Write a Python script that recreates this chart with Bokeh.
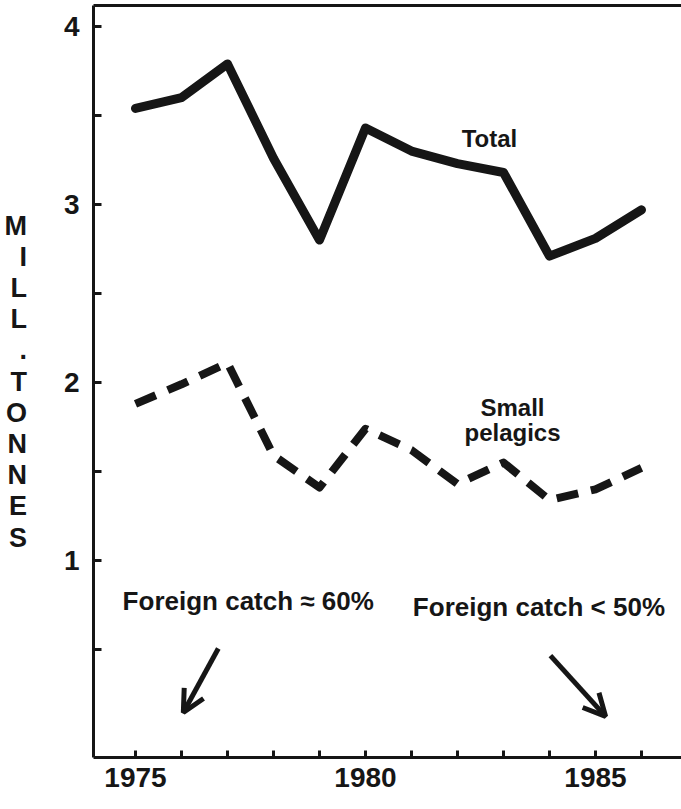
from bokeh.plotting import figure
from bokeh.models import Range1d, FixedTicker, Label, Arrow, OpenHead, LinearAxis
from bokeh.embed import file_html
from bokeh.resources import INLINE

# ---- data ----
years = list(range(1975, 1987))
total = [3.54, 3.60, 3.79, 3.26, 2.80, 3.43, 3.30, 3.23, 3.18, 2.71, 2.81, 2.97]
small_pelagics = [1.88, 1.99, 2.11, 1.59, 1.41, 1.74, 1.62, 1.43, 1.55, 1.34, 1.40, 1.52]
x_tick_labels = {1975: "1975", 1980: "1980", 1985: "1985"}
y_ticks = [0.5, 1.0, 1.5, 2.0, 2.5, 3.0, 3.5, 4.0]
y_tick_labels = {1.0: "1", 2.0: "2", 3.0: "3", 4.0: "4"}
ylabel_letters = ["M", "I", "L", "L", ".", "T", "O", "N", "N", "E", "S"]

INK = "#161616"
FONT = "Liberation Sans"

p = figure(width=681, height=809, output_backend="svg", toolbar_location=None,
           x_range=Range1d(1974.087, 1986.87), y_range=Range1d(-0.1067, 4.118),
           min_border_left=93, min_border_right=0, min_border_top=5, min_border_bottom=52)
p.grid.visible = False
p.outline_line_color = None
p.background_fill_color = "white"
p.border_fill_color = "white"

# axes
xa = p.xaxis[0]
xa.ticker = FixedTicker(ticks=years)
xa.major_label_overrides = {y: x_tick_labels.get(y, "") for y in years}
xa.major_tick_in = 7
xa.major_tick_out = 0
xa.minor_tick_line_color = None
xa.axis_line_width = 3
xa.axis_line_color = INK
xa.major_tick_line_width = 3
xa.major_tick_line_color = INK
xa.major_label_standoff = 10
xa.major_label_text_font = FONT
xa.major_label_text_font_style = "bold"
xa.major_label_text_font_size = "28px"
xa.major_label_text_color = INK

ya = p.yaxis[0]
ya.ticker = FixedTicker(ticks=y_ticks)
ya.major_label_overrides = {t: y_tick_labels.get(t, "") for t in y_ticks}
ya.major_tick_in = 8
ya.major_tick_out = 0
ya.minor_tick_line_color = None
ya.axis_line_width = 3
ya.axis_line_color = INK
ya.major_tick_line_width = 3
ya.major_tick_line_color = INK
ya.major_label_standoff = 14
ya.major_label_text_font = FONT
ya.major_label_text_font_style = "bold"
ya.major_label_text_font_size = "28px"
ya.major_label_text_color = INK
ya.axis_label = "\n".join(ylabel_letters)
ya.axis_label_orientation = "horizontal"
ya.axis_label_text_align = "center"
ya.axis_label_text_font = FONT
ya.axis_label_text_font_style = "bold"
ya.axis_label_text_font_size = "27px"
ya.axis_label_text_color = INK
ya.axis_label_text_line_height = 1.04
ya.axis_label_standoff = 34

# top frame line (an unlabeled axis)
top = LinearAxis(ticker=FixedTicker(ticks=years), axis_line_width=3, axis_line_color=INK,
                 major_tick_line_color=None, minor_tick_line_color=None,
                 major_tick_in=0, major_tick_out=0, major_label_standoff=0,
                 major_label_overrides={y: "" for y in years},
                 major_label_text_font_size="1px")
p.add_layout(top, "above")

# series
p.line(years, total, line_width=9, line_color=INK, line_join="round", line_cap="round")
p.line(years, small_pelagics, line_width=8, line_color=INK, line_dash="22 13",
       line_join="round")

# annotations
def lab(x, y, t, size="25px", align="left", baseline="alphabetic"):
    p.add_layout(Label(x=x, y=y, text=t, text_font=FONT, text_font_style="bold",
                       text_font_size=size, text_color=INK, text_align=align,
                       text_baseline=baseline))

lab(1982.696, 3.371, "Total", size="24px", align="center")
lab(1983.196, 1.859, "Small", size="24px", align="center")
lab(1983.196, 1.719, "pelagics", size="24px", align="center")
lab(1974.720, 0.775, "Foreign catch \u2248 60%", size="26px")
lab(1981.030, 0.741, "Foreign catch < 50%", size="26px")

p.add_layout(Arrow(x_start=1976.80, y_start=0.506, x_end=1976.04, y_end=0.146,
                   line_width=5, line_color=INK,
                   end=OpenHead(size=22, line_width=5, line_color=INK)))
p.add_layout(Arrow(x_start=1984.02, y_start=0.466, x_end=1985.22, y_end=0.124,
                   line_width=5, line_color=INK,
                   end=OpenHead(size=22, line_width=5, line_color=INK)))

open("out.html", "w").write(file_html(p, INLINE))
